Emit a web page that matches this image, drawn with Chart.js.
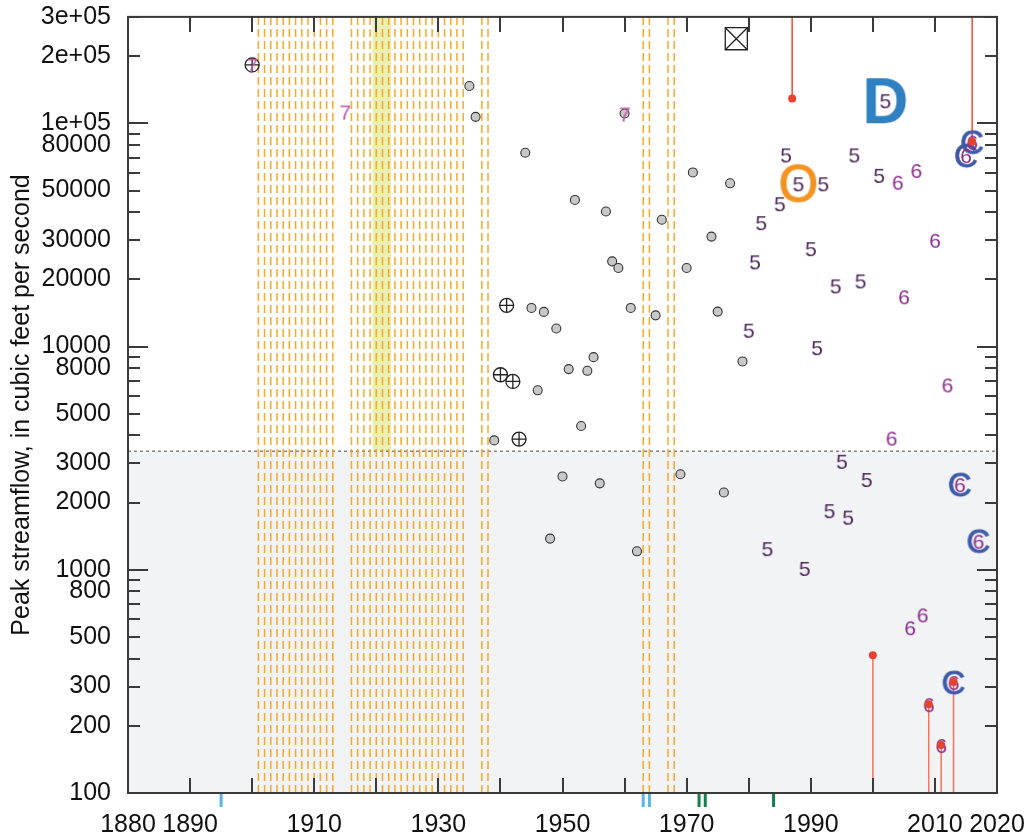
<!DOCTYPE html>
<html>
<head>
<meta charset="utf-8">
<script src="https://cdn.jsdelivr.net/npm/chart.js@4.4.1/dist/chart.umd.min.js"></script>
<style>
  html, body { margin: 0; padding: 0; background: #fff; }
  #wrap { width: 1031px; height: 840px; }
</style>
</head>
<body>
<div id="wrap"><canvas id="c" width="1031" height="840"></canvas></div>
<script>
// annual peaks, water year -> cubic feet per second
const plainYears = [1935, 1936, 1939, 1944, 1945, 1946, 1947, 1948, 1949, 1950, 1951, 1952, 1953, 1954, 1955, 1956,
  1957, 1958, 1959, 1960, 1961, 1962, 1965, 1966, 1969, 1970, 1971, 1974, 1975, 1976, 1977, 1979];
const plainPeaks = [147000, 107000, 3800, 73900, 14900, 6370, 14300, 1380, 12050, 2620, 7930, 45400, 4410, 7790, 8970, 2440,
  40300, 24100, 22500, 110700, 14900, 1210, 13800, 37000, 2680, 22500, 60300, 31100, 14350, 2220, 53900, 8580];

const histYears = [1900, 1940, 1941, 1942, 1943];
const histPeaks = [182800, 7480, 15300, 6980, 3850];

const code7Years = [1900, 1915, 1960];
const code7Peaks = [182800, 113000, 110700];

const code5Years = [1980, 1981, 1982, 1983, 1985, 1986, 1988, 1989, 1990, 1991, 1992, 1993, 1994, 1995, 1996, 1997, 1998, 1999, 2001, 2002];
const code5Peaks = [11900, 24100, 36100, 1250, 43900, 72600, 53900, 1020, 27600, 9940, 53900, 1850, 18800, 3080, 1730, 72600, 19800, 2550, 58800, 127000];

const code6Years = [2003, 2004, 2005, 2006, 2007, 2008, 2009, 2010, 2011, 2012, 2013, 2014, 2015, 2016, 2017];
const code6Peaks = [3910, 54800, 16800, 553, 61800, 631, 250, 30100, 164, 6770, 314, 2420, 72100, 82800, 1350];

const codeCYears = [2013, 2014, 2015, 2016, 2017];
const codeCPeaks = [314, 2420, 72100, 82800, 1350];

const codeDYears = [2002];
const codeDPeaks = [127000];
const codeOYears = [1988];
const codeOPeaks = [53900];

const boxYears = [1978];
const boxPeaks = [239500];

// red stems: up to the top of the plot or down to the bottom
const stemUpYears = [1987, 2016];
const stemUpPeaks = [129200, 82800];
const stemDownYears = [2000, 2009, 2011, 2013];
const stemDownPeaks = [414, 250, 164, 314];

// years with no record (orange dashed lines)
const gapYears = [1901, 1902, 1903, 1904, 1905, 1906, 1907, 1908, 1909, 1910, 1911, 1912, 1913,
  1916, 1917, 1918, 1919, 1920, 1921, 1922, 1923, 1924, 1925, 1926, 1927, 1928, 1929, 1930, 1931, 1932, 1933, 1934,
  1937, 1938, 1963, 1964, 1967, 1968];

const bandYears = [1919.4, 1922.4];
const threshold = 3400;

const blueMarks = [1895, 1963, 1964];
const greenMarks = [1972, 1973, 1984];

const xTickValues = [1880, 1890, 1900, 1910, 1920, 1930, 1940, 1950, 1960, 1970, 1980, 1990, 2000, 2010, 2020];
const xTickLabels = [1880, 1890, 1910, 1930, 1950, 1970, 1990, 2010, 2020];
const yTickValues = [100, 200, 300, 400, 500, 600, 700, 800, 900, 1000, 2000, 3000, 4000, 5000, 6000, 7000, 8000, 9000,
  10000, 20000, 30000, 40000, 50000, 60000, 70000, 80000, 90000, 100000, 200000, 300000];
const yTickLabels = [100, 200, 300, 500, 800, 1000, 2000, 3000, 5000, 8000, 10000, 20000, 30000, 50000, 80000, 100000, 200000, 300000];

const YMIN = 100, YMAX = 300000;
const FONT = '"Liberation Sans", Arial, Helvetica, sans-serif';

function pts(xs, ys) {
  return xs.map((x, i) => ({ x, y: ys[i] }));
}

function glyph(text, size, color, weight, stroke) {
  const c = document.createElement('canvas');
  const s = Math.ceil(size * 1.3 / 2) * 2;
  c.width = s;
  c.height = s;
  const g = c.getContext('2d');
  g.font = (weight || 'normal') + ' ' + size + 'px ' + FONT;
  g.fillStyle = color;
  g.textAlign = 'center';
  g.textBaseline = 'alphabetic';
  g.fillText(text, s / 2, s / 2 + size * 0.358);
  if (stroke) {
    g.strokeStyle = color;
    g.lineWidth = stroke;
    g.strokeText(text, s / 2, s / 2 + size * 0.358);
  }
  return c;
}

function segments(xs, y0s, y1s) {
  const out = [];
  xs.forEach((x, i) => {
    out.push({ x, y: y0s[i] }, { x, y: y1s[i] }, { x, y: null });
  });
  return out;
}

const textSet = (label, xs, ys, img, order) => ({
  label, data: pts(xs, ys), pointStyle: img, pointRadius: 10, order,
});

const decorations = {
  id: 'decorations',
  beforeDatasetsDraw(chart) {
    const { ctx, chartArea: a, scales: { x, y } } = chart;
    const ty = y.getPixelForValue(threshold);
    ctx.save();
    ctx.fillStyle = '#f2f3f5';
    ctx.fillRect(a.left, ty, a.right - a.left, a.bottom - ty);
    const b0 = x.getPixelForValue(bandYears[0]);
    const b1 = x.getPixelForValue(bandYears[1]);
    ctx.fillStyle = '#e9f0b0';
    ctx.fillRect(b0, a.top, b1 - b0, ty - a.top);
    ctx.strokeStyle = '#666';
    ctx.lineWidth = 1.2;
    ctx.setLineDash([3, 3]);
    ctx.beginPath();
    ctx.moveTo(a.left, ty);
    ctx.lineTo(a.right, ty);
    ctx.stroke();
    ctx.restore();
  },
  afterDraw(chart) {
    const { ctx, chartArea: a, scales: { x, y } } = chart;
    ctx.save();
    ctx.strokeStyle = '#3a3a3a';
    ctx.lineWidth = 2;
    ctx.beginPath();
    xTickValues.forEach((v) => {
      const px = Math.round(x.getPixelForValue(v));
      ctx.moveTo(px, a.bottom);
      ctx.lineTo(px, a.bottom - 15);
      ctx.moveTo(px, a.top);
      ctx.lineTo(px, a.top + 15);
    });
    yTickValues.forEach((v) => {
      const py = Math.round(y.getPixelForValue(v));
      const len = Math.log10(v) % 1 === 0 ? 20 : 12;
      ctx.moveTo(a.left, py);
      ctx.lineTo(a.left + len, py);
      ctx.moveTo(a.right, py);
      ctx.lineTo(a.right - len, py);
    });
    ctx.stroke();
    ctx.strokeRect(a.left, a.top, a.right - a.left, a.bottom - a.top);

    ctx.lineWidth = 3;
    [[blueMarks, '#5ab4e5'], [greenMarks, '#17804a']].forEach(([list, col]) => {
      ctx.strokeStyle = col;
      ctx.beginPath();
      list.forEach((v) => {
        const px = x.getPixelForValue(v);
        ctx.moveTo(px, a.bottom + 1);
        ctx.lineTo(px, a.bottom + 14);
      });
      ctx.stroke();
    });
    ctx.restore();
  },
};

const g5 = glyph('5', 21, '#4e2a5a');
const g6 = glyph('6', 21, '#8b2c8f');
const g7 = glyph('7', 21, '#c055a5');
const gC = glyph('C', 33, '#3d5aa8', 'normal', 0.8);
const gD = glyph('D', 64, '#2f80c0', 'bold');
const gO = glyph('O', 51, '#f39323', 'normal', 1.2);

new Chart(document.getElementById('c'), {
  type: 'scatter',
  data: {
    datasets: [
      {
        label: 'no record',
        data: segments(gapYears, gapYears.map(() => YMIN), gapYears.map(() => YMAX)),
        showLine: true, spanGaps: false, pointRadius: 0,
        borderColor: 'rgba(245,160,20,0.9)', borderWidth: 1.5, borderDash: [8, 4],
        order: 20,
      },
      {
        label: 'stems up',
        data: segments(stemUpYears, stemUpPeaks, stemUpYears.map(() => YMAX)),
        showLine: true, spanGaps: false, pointRadius: 0,
        borderColor: '#ee4a36', borderWidth: 1.5, order: 19,
      },
      {
        label: 'stems down',
        data: segments(stemDownYears, stemDownPeaks, stemDownYears.map(() => YMIN)),
        showLine: true, spanGaps: false, pointRadius: 0,
        borderColor: '#f27462', borderWidth: 1.5, order: 19,
      },
      {
        label: 'peaks',
        data: pts(plainYears, plainPeaks),
        pointRadius: 4.5, backgroundColor: '#c8c8c8', borderColor: '#333', borderWidth: 1.1,
        order: 18,
      },
      {
        label: 'historic ring',
        data: pts(histYears, histPeaks),
        pointRadius: 7, backgroundColor: 'rgba(0,0,0,0)', borderColor: '#222', borderWidth: 1.3,
        order: 17,
      },
      {
        label: 'historic cross',
        data: pts(histYears, histPeaks),
        pointStyle: 'cross', pointRadius: 7, borderColor: '#222', borderWidth: 1.3,
        order: 17,
      },
      {
        label: 'box',
        data: pts(boxYears, boxPeaks),
        pointStyle: 'rect', pointRadius: 15.6, backgroundColor: 'rgba(0,0,0,0)', borderColor: '#222', borderWidth: 1.3,
        order: 17,
      },
      {
        label: 'box x',
        data: pts(boxYears, boxPeaks),
        pointStyle: 'crossRot', pointRadius: 15.6, borderColor: '#222', borderWidth: 1.3,
        order: 17,
      },
      textSet('D', codeDYears, codeDPeaks, gD, 16),
      textSet('O', codeOYears, codeOPeaks, gO, 16),
      textSet('C', codeCYears, codeCPeaks, gC, 15),
      textSet('5', code5Years, code5Peaks, g5, 14),
      textSet('6', code6Years, code6Peaks, g6, 14),
      textSet('7', code7Years, code7Peaks, g7, 14),
      {
        label: 'stem tips',
        data: pts(stemUpYears.concat(stemDownYears), stemUpPeaks.concat(stemDownPeaks)),
        pointRadius: 4, backgroundColor: '#e8412c', borderWidth: 0,
        order: 13,
      },
    ],
  },
  options: {
    responsive: false,
    animation: false,
    events: [],
    layout: { padding: { left: 0, right: 34, top: 15, bottom: 0 } },
    plugins: { legend: { display: false }, tooltip: { enabled: false } },
    scales: {
      x: {
        type: 'linear',
        min: 1880,
        max: 2020,
        grid: { display: false, drawTicks: false },
        border: { display: false },
        afterBuildTicks: (s) => { s.ticks = xTickValues.map((value) => ({ value })); },
        afterFit: (s) => { s.height = 47; s.paddingLeft = 0; s.paddingRight = 0; },
        ticks: {
          autoSkip: false,
          maxRotation: 0,
          padding: 17,
          color: '#111',
          font: { family: FONT, size: 25 },
          callback: (v) => (xTickLabels.includes(v) ? String(v) : ''),
        },
      },
      y: {
        type: 'logarithmic',
        min: YMIN,
        max: YMAX,
        grid: { display: false, drawTicks: false },
        border: { display: false },
        afterBuildTicks: (s) => { s.ticks = yTickValues.map((value) => ({ value })); },
        afterFit: (s) => { s.width = 128; s.paddingTop = 0; s.paddingBottom = 0; },
        title: {
          display: true,
          text: 'Peak streamflow, in cubic feet per second',
          color: '#111',
          font: { family: FONT, size: 25 },
          padding: { top: 7, bottom: 0 },
        },
        ticks: {
          autoSkip: false,
          padding: 17,
          color: '#111',
          font: { family: FONT, size: 25 },
          callback: (v) => {
            if (!yTickLabels.includes(v)) return '';
            return v >= 100000 ? (v / 100000) + 'e+05' : String(v);
          },
        },
      },
    },
  },
  plugins: [decorations],
});
</script>
</body>
</html>
